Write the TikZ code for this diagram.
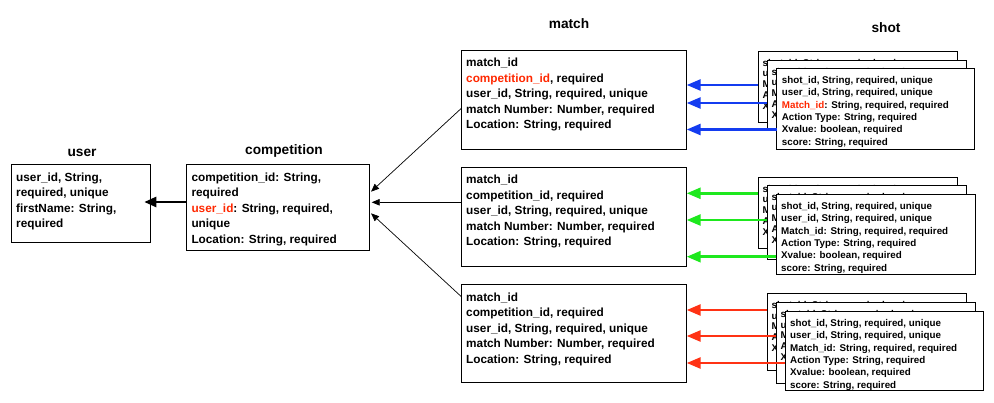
\documentclass[tikz,border=0pt]{standalone}
\usepackage{fontspec}
\setmainfont{Liberation Sans}
\usetikzlibrary{arrows.meta}
\definecolor{cblue}{RGB}{20,60,240}
\definecolor{cgreen}{RGB}{30,232,30}
\definecolor{cred}{RGB}{255,50,20}
\definecolor{tred}{RGB}{255,40,0}
\newcommand{\shotfront}[1]{shot\_id, String, required, unique\\user\_id, String, required, unique\\#1: String, required, required\\Action Type: String, required\\Xvalue: boolean, required\\score: String, required}
\newcommand{\shotback}{shot\_id, String, required, unique\\user\_id, String, required, unique\\Match\_id: String, required, required\\Action Type: String, required\\Xvalue: boolean, required}
\newcommand{\matchtext}[1]{match\_id\\#1, required\\user\_id, String, required, unique\\match Number: Number, required\\Location: String, required}
\begin{document}
\begin{tikzpicture}[x=1pt,y=-1pt,
  box/.style={draw=black, line width=0.9pt, fill=white, anchor=north west, inner sep=0pt, outer sep=0pt},
  txt/.style={anchor=north west, inner sep=0pt, align=left, font=\fontsize{11.8}{15.5}\selectfont\bfseries},
  stxt/.style={anchor=north west, inner sep=0pt, align=left, font=\fontsize{9.8}{12.3}\selectfont\bfseries},
  btxt/.style={anchor=north west, inner sep=0pt, align=left, font=\fontsize{9.8}{10.7}\selectfont\bfseries},
  ttl/.style={font=\fontsize{13.7}{16}\selectfont\bfseries, inner sep=0pt},
  comparrow/.style={-{Triangle[length=8pt,width=6.5pt]}, line width=0.7pt, shorten >=2.4pt},
  userarrow/.style={-{Triangle[length=12pt,width=10pt]}, line width=2.4pt, shorten >=-6pt},
  shotarrow/.style={-{Triangle[length=14pt,width=11pt]}, line width=2.6pt}
]
\fill[white] (0,0) rectangle (994,403);
\useasboundingbox (0,0) rectangle (994,403);

% titles
\node[ttl] (tuser) at (82,153) {user};
\node[ttl] (tcomp) at (284,151) {competition};
\node[ttl] (tmatch) at (569,24) {match};
\node[ttl] (tshot) at (886,28) {shot};

% user
\node[box, minimum width=138.6pt, minimum height=78pt] (user) at (11.7,164) {};
\node[txt] (usert) at ([shift={(4.3,8.3)}]user.north west) {user\_id, String,\\required, unique\\firstName: String,\\required};

% competition
\node[box, minimum width=183.3pt, minimum height=86pt] (comp) at (186,164) {};
\node[txt] (compt) at ([shift={(5.3,8.3)}]comp.north west) {competition\_id: String,\\required\\\textcolor{tred}{user\_id}: String, required,\\unique\\Location: String, required};

% matches
\node[box, minimum width=225pt, minimum height=99pt] (m1) at (461.7,50.7) {};
\node[txt] (m1t) at ([shift={(4.3,7.4)}]m1.north west) {\matchtext{\textcolor{tred}{competition\_id}}};
\node[box, minimum width=225pt, minimum height=99pt] (m2) at (461.7,167.3) {};
\node[txt] (m2t) at ([shift={(4.3,7.6)}]m2.north west) {\matchtext{competition\_id}};
\node[box, minimum width=225pt, minimum height=98pt] (m3) at (461.7,284.7) {};
\node[txt] (m3t) at ([shift={(4.3,7.6)}]m3.north west) {\matchtext{competition\_id}};

% shot group blue
\node[box, minimum width=199pt, minimum height=71pt] (sb1) at (758,51) {};
\node[btxt] (sb1t) at ([shift={(4.5,8)}]sb1.north west) {\shotback};
\node[box, minimum width=199pt, minimum height=70pt] (sb2) at (767,60) {};
\node[btxt] (sb2t) at ([shift={(4.5,8)}]sb2.north west) {\shotback};
\node[box, minimum width=197.5pt, minimum height=81pt] (sb3) at (776.7,68) {};
\node[stxt] (sb3t) at ([shift={(5,8.3)}]sb3.north west) {\shotfront{\textcolor{tred}{Match\_id}}};

% shot group green
\node[box, minimum width=199pt, minimum height=71.5pt] (sg1) at (758,177) {};
\node[btxt] (sg1t) at ([shift={(4.5,8)}]sg1.north west) {\shotback};
\node[box, minimum width=199pt, minimum height=74pt] (sg2) at (767,185) {};
\node[btxt] (sg2t) at ([shift={(4.5,8)}]sg2.north west) {\shotback};
\node[box, minimum width=199pt, minimum height=80pt] (sg3) at (776,194) {};
\node[stxt] (sg3t) at ([shift={(5,8.3)}]sg3.north west) {\shotfront{Match\_id}};

% shot group red
\node[box, minimum width=199pt, minimum height=77pt] (sr1) at (767,293) {};
\node[btxt] (sr1t) at ([shift={(4.5,8)}]sr1.north west) {\shotback};
\node[box, minimum width=199pt, minimum height=81pt] (sr2) at (776,302) {};
\node[btxt] (sr2t) at ([shift={(4.5,8)}]sr2.north west) {\shotback};
\node[box, minimum width=198pt, minimum height=79pt] (sr3) at (785,311) {};
\node[stxt] (sr3t) at ([shift={(5,8.3)}]sr3.north west) {\shotfront{Match\_id}};

% connectors shot -> match
\draw[shotarrow, cblue] (sb1.west |- 0,85) -- (m1.east |- 0,85);
\draw[shotarrow, cblue] (sb2.west |- 0,103) -- (m1.east |- 0,103);
\draw[shotarrow, cblue] (sb3.west |- 0,129.5) -- (m1.east |- 0,129.5);
\draw[shotarrow, cgreen] (sg1.west |- 0,193.3) -- (m2.east |- 0,193.3);
\draw[shotarrow, cgreen] (sg2.west |- 0,220) -- (m2.east |- 0,220);
\draw[shotarrow, cgreen] (sg3.west |- 0,256.7) -- (m2.east |- 0,256.7);
\draw[shotarrow, cred] (sr1.west |- 0,310) -- (m3.east |- 0,310);
\draw[shotarrow, cred] (sr2.west |- 0,336) -- (m3.east |- 0,336);
\draw[shotarrow, cred] (sr3.west |- 0,363) -- (m3.east |- 0,363);

% match -> competition
\draw[comparrow] (m1.west |- 0,108) -- (comp.east |- 0,193.3);
\draw[comparrow] (m2.west |- 0,202.3) -- (comp.east |- 0,202.3);
\draw[comparrow] (m3.west |- 0,297) -- (comp.east |- 0,211.7);

% competition -> user
\draw[userarrow] (comp.west |- 0,202) -- (user.east |- 0,202);
\end{tikzpicture}
\end{document}
